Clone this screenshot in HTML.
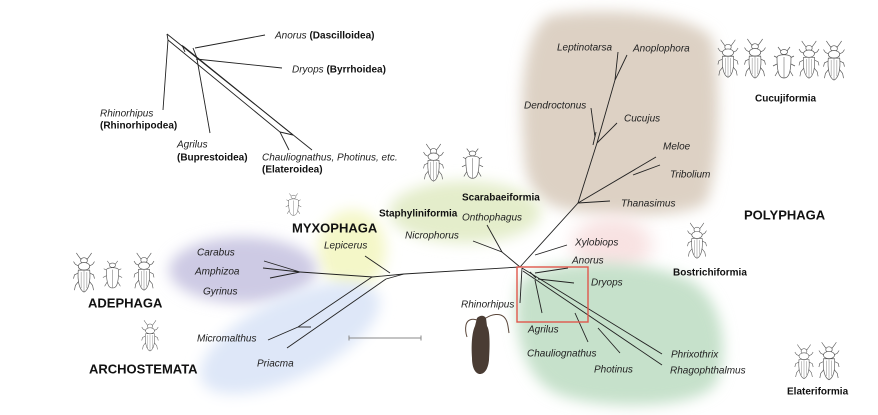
<!DOCTYPE html>
<html><head><meta charset="utf-8"><style>
html,body{margin:0;padding:0;background:#fff;}
svg{display:block;}
text{font-family:"Liberation Sans",Arial,sans-serif;font-size:10px;fill:#222;}
.i{font-style:italic;}
.b{font-weight:bold;fill:#111;}
.B{font-weight:bold;font-size:13px;fill:#111;}
</style></head><body>
<svg width="878" height="415" viewBox="0 0 878 415" xmlns="http://www.w3.org/2000/svg">
<defs>
<filter id="bl" x="-30%" y="-30%" width="160%" height="160%"><feGaussianBlur stdDeviation="7"/></filter>
<filter id="bl2" x="-30%" y="-30%" width="160%" height="160%"><feGaussianBlur stdDeviation="9"/></filter>
<symbol id="bt" viewBox="0 0 24 44">
<g fill="#fff" stroke="#555" stroke-width="0.7">
<path d="M9,8 L6,4 L4,1 M15,8 L18,4 L20,1 M7,15 L3,13 L1,10 M17,15 L21,13 L23,10 M6,22 L2,24 L1,28 M18,22 L22,24 L23,28 M7,30 L3,35 L2,40 M17,30 L21,35 L22,40" fill="none"/>
<ellipse cx="12" cy="9" rx="3.5" ry="3"/>
<ellipse cx="12" cy="15" rx="6" ry="4"/>
<path d="M6,19 C5,30 7,40 12,42 C17,40 19,30 18,19 Z"/>
<path d="M12,19 L12,42 M9,21 L9,38 M15,21 L15,38" fill="none" stroke-width="0.4"/>
</g>
</symbol>
<symbol id="bw" viewBox="0 0 24 34">
<g fill="#fff" stroke="#555" stroke-width="0.7">
<path d="M9,6 L6,2 M15,6 L18,2 M6,13 L2,11 M18,13 L22,11 M5,19 L1,21 M19,19 L23,21 M6,26 L3,31 M18,26 L21,31" fill="none"/>
<ellipse cx="12" cy="7" rx="3.5" ry="2.5"/>
<path d="M5,12 C5,30 8,33 12,33 C16,33 19,30 19,12 C17,9 7,9 5,12 Z"/>
<path d="M12,12 L12,33" fill="none" stroke-width="0.5"/>
</g>
</symbol>
</defs>

<!-- background blobs -->
<path d="M548,16 C600,6 690,12 712,38 C722,80 720,170 706,203 C680,220 600,216 568,210 C538,205 524,185 524,150 C520,110 520,36 548,16 Z" fill="#ddd1c4" filter="url(#bl)"/>
<ellipse cx="612" cy="245" rx="40" ry="28" fill="#f8e2e2" filter="url(#bl2)"/>
<path d="M520,282 C540,258 640,256 690,280 C726,300 730,360 715,385 C695,410 600,410 560,395 C520,380 510,320 520,282 Z" fill="#c6e1cb" filter="url(#bl)"/>
<ellipse cx="465" cy="212" rx="76" ry="31" fill="#e4edcb" filter="url(#bl)"/>
<ellipse cx="352" cy="250" rx="34" ry="40" fill="#f4f7c8" filter="url(#bl)"/>
<ellipse cx="243" cy="270" rx="74" ry="33" fill="#cdcae4" filter="url(#bl)"/>
<ellipse cx="290" cy="338" rx="98" ry="40" transform="rotate(-26 290 338)" fill="#dee7f8" filter="url(#bl)"/>

<!-- inset tree -->
<g stroke="#222" stroke-width="0.9" fill="none">
<path d="M167,34 L312,150"/>
<path d="M167,34 L168,40 L163,110"/>
<path d="M168,40 L280,132 L289,150"/>
<path d="M182,45 L185,52"/>
<path d="M183,46 L293,135"/>
<path d="M280,132 L293,135"/>
<path d="M195,48 L265,35"/>
<path d="M196,59 L282,68"/>
<path d="M197,59 L210,133"/>
<path d="M193,48 L197,58"/>
</g>

<!-- main tree -->
<g stroke="#222" stroke-width="0.9" fill="none">
<path d="M520,267 L578,203 L597,143 L615,80 L627,55"/>
<path d="M615,80 L618,52"/>
<path d="M597,143 L617,123"/>
<path d="M595,137 L591,108"/>
<path d="M593,145 L596,132"/>
<path d="M578,203 L610,201"/>
<path d="M578,203 L656,157"/>
<path d="M633,175 L660,165"/>
<path d="M535,255 L567,245"/>
<path d="M520,267 L502,252 L473,241"/>
<path d="M502,252 L487,225"/>
<path d="M520,267 L404,274 L372,277"/>
<path d="M404,274 L386,279"/>
<path d="M390,273 L365,256"/>
<path d="M373,277 L300,272"/>
<path d="M300,272 L264,261 M300,272 L263,268 M300,272 L270,278"/>
<path d="M372,277 L298,327 L268,340"/>
<path d="M386,279 L287,348"/>
<path d="M298,327 L311,327"/>
<!-- elateriformia -->
<path d="M522,268 L520,303"/>
<path d="M522,268 L662,354"/>
<path d="M523,271 L662,365"/>
<path d="M535,273 L568,268"/>
<path d="M538,279 L574,283"/>
<path d="M535,280 L542,313"/>
<path d="M575,313 L588,342"/>
<path d="M598,328 L620,353"/>
<path d="M530,272 L536,278"/>
</g>
<rect x="517" y="267" width="71" height="55" fill="none" stroke="#e0574c" stroke-width="1.4"/>

<!-- scale bar -->
<g stroke="#888" stroke-width="1"><path d="M349,338 L421,338 M349,335.5 L349,340.5 M421,335.5 L421,340.5"/></g>

<!-- beetles -->
<use href="#bt" x="717" y="38" width="22" height="42"/>
<use href="#bt" x="743" y="38" width="24" height="42"/>
<use href="#bw" x="772" y="44" width="24" height="36"/>
<use href="#bt" x="798" y="40" width="22" height="40"/>
<use href="#bt" x="822" y="40" width="24" height="42"/>
<use href="#bt" x="685" y="222" width="24" height="38"/>
<use href="#bt" x="794" y="342" width="20" height="40"/>
<use href="#bt" x="818" y="341" width="22" height="41"/>
<use href="#bt" x="72" y="252" width="24" height="42"/>
<use href="#bw" x="102" y="257" width="21" height="34"/>
<use href="#bt" x="132" y="252" width="24" height="40"/>
<use href="#bt" x="141" y="314" width="18" height="44"/>
<use href="#bw" x="282" y="192" width="23" height="24"/>
<use href="#bt" x="422" y="143" width="23" height="40"/>
<use href="#bw" x="461" y="146" width="23" height="34"/>

<!-- Rhinorhipus photo beetle -->
<g>
<path d="M477,318 C480,315 484,315 486,318 L487,326 C490,330 490,345 489,360 C488,370 484,374 480,374 C476,374 472,369 472,358 C471,345 472,332 475,326 Z" fill="#4a3c34"/>
<path d="M477,320 C472,318 467,320 466,325 C465,330 466,334 467,337" stroke="#5a463a" stroke-width="1" fill="none"/>
<path d="M486,318 C492,314 500,313 504,317 C508,321 508,327 509,333" stroke="#5a463a" stroke-width="1" fill="none"/>
</g>

<!-- inset labels -->
<text x="275" y="38.5"><tspan class="i">Anorus</tspan> <tspan class="b">(Dascilloidea)</tspan></text>
<text x="292" y="72.5"><tspan class="i">Dryops</tspan> <tspan class="b">(Byrrhoidea)</tspan></text>
<text x="100" y="116.5" class="i">Rhinorhipus</text>
<text x="100" y="128.5" class="b">(Rhinorhipodea)</text>
<text x="177" y="147.5" class="i">Agrilus</text>
<text x="177" y="160.5" class="b">(Buprestoidea)</text>
<text x="262" y="160.5" class="i">Chauliognathus, Photinus, etc.</text>
<text x="262" y="172.5" class="b">(Elateroidea)</text>

<!-- main labels -->
<text x="557" y="50.5" class="i">Leptinotarsa</text>
<text x="633" y="51.5" class="i">Anoplophora</text>
<text x="524" y="108.5" class="i">Dendroctonus</text>
<text x="624" y="121.5" class="i">Cucujus</text>
<text x="663" y="149.5" class="i">Meloe</text>
<text x="670" y="177.5" class="i">Tribolium</text>
<text x="621" y="206.5" class="i">Thanasimus</text>
<text x="755" y="101.5" class="b">Cucujiformia</text>
<text x="744" y="219.5" class="B">POLYPHAGA</text>
<text x="673" y="275.5" class="b">Bostrichiformia</text>
<text x="787" y="394.5" class="b">Elateriformia</text>
<text x="462" y="200.5" class="b">Scarabaeiformia</text>
<text x="379" y="216.5" class="b">Staphyliniformia</text>
<text x="462" y="220.5" class="i">Onthophagus</text>
<text x="405" y="238.5" class="i">Nicrophorus</text>
<text x="292" y="232.5" class="B">MYXOPHAGA</text>
<text x="324" y="248.5" class="i">Lepicerus</text>
<text x="575" y="245.5" class="i">Xylobiops</text>
<text x="572" y="263.5" class="i">Anorus</text>
<text x="591" y="285.5" class="i">Dryops</text>
<text x="461" y="307.5" class="i">Rhinorhipus</text>
<text x="528" y="332.5" class="i">Agrilus</text>
<text x="527" y="356.5" class="i">Chauliognathus</text>
<text x="594" y="372.5" class="i">Photinus</text>
<text x="671" y="357.5" class="i">Phrixothrix</text>
<text x="670" y="373.5" class="i">Rhagophthalmus</text>
<text x="197" y="255.5" class="i">Carabus</text>
<text x="195" y="274.5" class="i">Amphizoa</text>
<text x="203" y="294.5" class="i">Gyrinus</text>
<text x="88" y="307.5" class="B">ADEPHAGA</text>
<text x="89" y="373.5" class="B">ARCHOSTEMATA</text>
<text x="197" y="341.5" class="i">Micromalthus</text>
<text x="257" y="366.5" class="i">Priacma</text>
</svg>
</body></html>
